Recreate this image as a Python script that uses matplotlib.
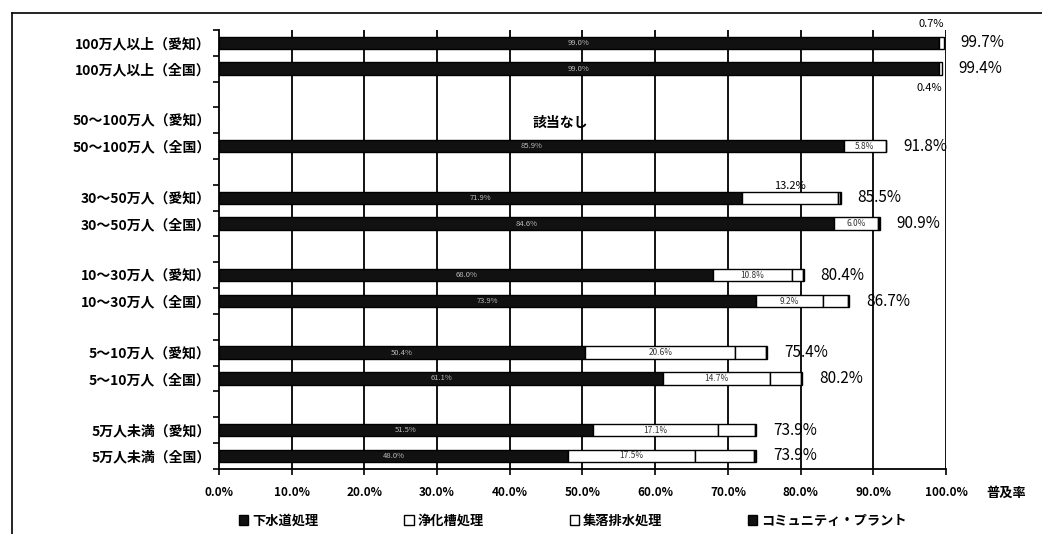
import matplotlib.pyplot as plt
from matplotlib.lines import Line2D
from matplotlib.patches import Patch

plt.rcParams['font.family'] = ['Noto Sans CJK JP', 'DejaVu Sans']

# categories, top to bottom (pairs: 愛知 / 全国)
categories = ['100万人以上（愛知）', '100万人以上（全国）',
              '50～100万人（愛知）', '50～100万人（全国）',
              '30～50万人（愛知）', '30～50万人（全国）',
              '10～30万人（愛知）', '10～30万人（全国）',
              '5～10万人（愛知）', '5～10万人（全国）',
              '5万人未満（愛知）', '5万人未満（全国）']

# series values (%)
sewer     = [99.0, 99.0, 0.0, 85.9, 71.9, 84.6, 68.0, 73.9, 50.4, 61.1, 51.5, 48.0]
johkaso   = [0.7, 0.4, 0.0, 5.8, 13.2, 6.0, 10.8, 9.2, 20.6, 14.7, 17.1, 17.5]
shuraku   = [0.0, 0.0, 0.0, 0.1, 0.3, 0.2, 1.5, 3.4, 4.2, 4.2, 5.1, 8.1]
community = [0.0, 0.0, 0.0, 0.0, 0.1, 0.1, 0.1, 0.2, 0.2, 0.2, 0.2, 0.3]
totals    = [99.7, 99.4, None, 91.8, 85.5, 90.9, 80.4, 86.7, 75.4, 80.2, 73.9, 73.9]

series_names = ['下水道処理', '浄化槽処理', '集落排水処理', 'コミュニティ・プラント']
xticks = [0, 10, 20, 30, 40, 50, 60, 70, 80, 90, 100]

fig = plt.figure(figsize=(10.42, 5.34), dpi=100)
ax = fig.add_axes([0.210, 0.122, 0.698, 0.822])

# 17 slots: two bars then an empty slot
pos = []
for i in range(len(categories)):
    pos.append((i // 2) * 3 + (i % 2))

h = 0.48
# vertical grid
for v in xticks[1:]:
    ax.axvline(v, color='black', lw=1.3, zorder=1)

left = [0.0] * len(categories)
styles = ['#111111', 'white', 'white', '#111111']
for vals, fc in zip([sewer, johkaso, shuraku, community], styles):
    idx = [k for k, v in enumerate(vals) if v > 0]
    ax.barh([pos[k] for k in idx], [vals[k] for k in idx],
            left=[left[k] for k in idx], height=h, color=fc,
            edgecolor='black', lw=1.0, zorder=3)
    left = [a + b for a, b in zip(left, vals)]

# sewer inner labels (faint text inside black)
for p, s in zip(pos, sewer):
    if s > 0:
        ax.text(s / 2, p, f'{s:.1f}%', color='#bbbbbb', fontsize=5.5,
                ha='center', va='center', zorder=4)

# 浄化槽 labels
for i, (p, s, j) in enumerate(zip(pos, sewer, johkaso)):
    if j <= 0:
        continue
    if i == 0:
        ax.text(s + j, p - 0.55, f'{j:.1f}%', fontsize=8, ha='right', va='bottom', zorder=4)
    elif i == 1:
        ax.text(s + j, p + 0.55, f'{j:.1f}%', fontsize=8, ha='right', va='top', zorder=4)
    elif i == 4:
        ax.text(s + j / 2, p - 0.28, f'{j:.1f}%', fontsize=8, ha='center', va='bottom', zorder=4)
    else:
        ax.text(s + j / 2, p, f'{j:.1f}%', fontsize=6, ha='center', va='center',
                color='#333333', zorder=4)

# totals
for p, t in zip(pos, totals):
    if t is None:
        ax.text(47, p + 0.1, '該当なし', fontsize=10, fontweight='bold',
                ha='center', va='center')
        continue
    ax.text(t + 2.3, p, f'{t:.1f}%', fontsize=11, ha='left', va='center')

ax.set_xlim(0, 100)
ax.set_ylim(16.5, -0.5)
ax.set_xticks(xticks)
ax.set_xticklabels([f'{v:.1f}%' for v in xticks], fontsize=8.5, fontweight='bold')
ax.set_yticks(pos)
ax.set_yticklabels(categories, fontsize=10, fontweight='bold')
ax.tick_params(axis='y', length=0, pad=6)
ax.set_yticks([k - 0.5 for k in range(18)], minor=True)
ax.tick_params(axis='y', which='minor', length=4, width=1.2, direction='out')
ax.tick_params(axis='x', length=4, width=1.2, direction='out', pad=8)
for sp in ['top', 'right']:
    ax.spines[sp].set_visible(False)
ax.spines['left'].set_linewidth(1.3)
ax.spines['bottom'].set_linewidth(1.3)

ax.text(1.055, -0.055, '普及率', transform=ax.transAxes, fontsize=9.5,
        fontweight='bold', ha='left', va='center')

handles = [Patch(facecolor=fc, edgecolor='black') for fc in styles]
fig.legend(handles, series_names, loc='center', bbox_to_anchor=(0.55, 0.025),
           ncol=4, frameon=False, columnspacing=6.5, handlelength=0.7,
           handleheight=0.7, handletextpad=0.3,
           prop={'size': 9.5, 'weight': 'bold'})

# outer frame (top and left edges visible)
fig.add_artist(Line2D([0.0115, 1.0], [0.975, 0.975], transform=fig.transFigure,
                      color='black', lw=1.2))
fig.add_artist(Line2D([0.0115, 0.0115], [0.0, 0.975], transform=fig.transFigure,
                      color='black', lw=1.2))

fig.savefig('out.png', dpi=100)
